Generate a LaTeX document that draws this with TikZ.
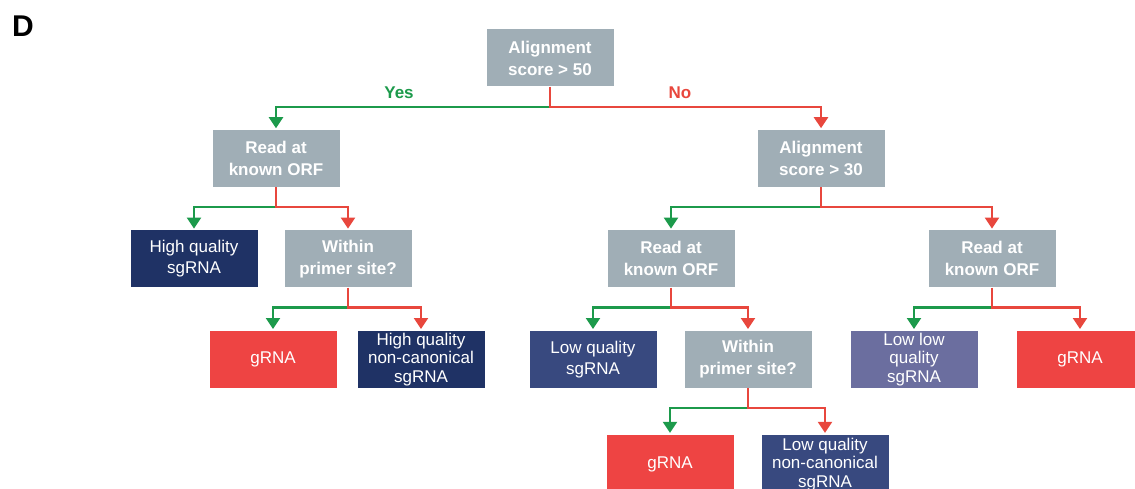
\documentclass[tikz,border=0pt]{standalone}
\usepackage{fontspec}
\setmainfont{Liberation Sans}
\usepackage{xcolor}
\usetikzlibrary{positioning, arrows.meta}
\definecolor{testgray}{HTML}{A0AEB6}
\definecolor{hqblue}{HTML}{1F3265}
\definecolor{lqblue}{HTML}{38497F}
\definecolor{llqblue}{HTML}{6B6E9F}
\definecolor{grnared}{HTML}{EE4443}
\definecolor{yesgreen}{HTML}{1C9A4B}
\definecolor{nored}{HTML}{E8473D}
\tikzset{
x=1pt, y=1pt, % one unit is one pixel of the figure
node distance=43pt, % vertical gap between two levels of the tree
box/.style={minimum width=127pt, minimum height=57pt, inner sep=2pt, align=center, text=white, font=\fontsize{17}{21}\selectfont}, % every box of the tree
test/.style={box, fill=testgray, font=\bfseries\fontsize{17}{22}\selectfont}, % a question
hq/.style={box, fill=hqblue}, % high quality result
lq/.style={box, fill=lqblue}, % low quality result
llq/.style={box, fill=llqblue}, % low low quality result
grna/.style={box, fill=grnared}, % genomic RNA
three/.style={font=\fontsize{17}{18.5}\selectfont}, % boxes with three lines
bottom/.style={minimum height=60pt, yshift=-3.5pt}, % last row, cut by the border
yes/.style={draw=yesgreen, line width=2.2pt, -{Triangle[width=14pt,length=11pt]}, shorten >=1.5pt}, % the yes branch
no/.style={draw=nored, line width=2.2pt, -{Triangle[width=14pt,length=11pt]}, shorten >=1.5pt}, % the no branch
}

\begin{document}
\begin{tikzpicture}
\useasboundingbox (0,0) rectangle (1135,-489);
\clip (0,0) rectangle (1135,-489);
\node[font=\bfseries\fontsize{30}{30}\selectfont] (panel) at (23,-26) {D};
\node[test] (root) at (550,-58) {Alignment\\score > 50};
\node[test, below=of root, xshift=-274pt] (orfA) {Read at\\known ORF};
\node[test, below=of root, xshift=271pt] (aln30) {Alignment\\score > 30};
\node[hq, below=of orfA, xshift=-82pt] (hqs) {High quality\\sgRNA};
\node[test, below=of orfA, xshift=72pt] (primA) {Within\\primer site?};
\node[grna, below=of primA, xshift=-75pt] (gA) {gRNA};
\node[hq, three, below=of primA, xshift=73pt] (hqnc) {High quality\\non-canonical\\sgRNA};
\node[test, below=of aln30, xshift=-150pt] (orfB) {Read at\\known ORF};
\node[test, below=of aln30, xshift=171pt] (orfC) {Read at\\known ORF};
\node[lq, below=of orfB, xshift=-78pt] (lqs) {Low quality\\sgRNA};
\node[test, below=of orfB, xshift=77pt] (primB) {Within\\primer site?};
\node[llq, three, below=of orfC, xshift=-78pt] (llqs) {Low low\\quality\\sgRNA};
\node[grna, below=of orfC, xshift=88pt] (gC) {gRNA};
\node[grna, bottom, below=of primB, xshift=-78pt] (gB) {gRNA};
\node[lq, three, bottom, below=of primB, xshift=77pt] (lqnc) {Low quality\\non-canonical\\sgRNA};
\node[text=yesgreen, font=\bfseries\fontsize{17}{17}\selectfont] (yeslab) at (399,-93) {Yes};
\node[text=nored, font=\bfseries\fontsize{17}{17}\selectfont] (nolab) at (680,-93) {No};
% yes goes left, no goes right
\foreach \p/\l/\r in {root/orfA/aln30, orfA/hqs/primA, primA/gA/hqnc, aln30/orfB/orfC, orfB/lqs/primB, orfC/llqs/gC, primB/gB/lqnc}{
  \coordinate[below=20pt of \p] (j\p);
  \draw[yes] (j\p) -| (\l);
  \draw[no] (\p) -- (j\p) -| (\r);
}
\end{tikzpicture}
\end{document}
